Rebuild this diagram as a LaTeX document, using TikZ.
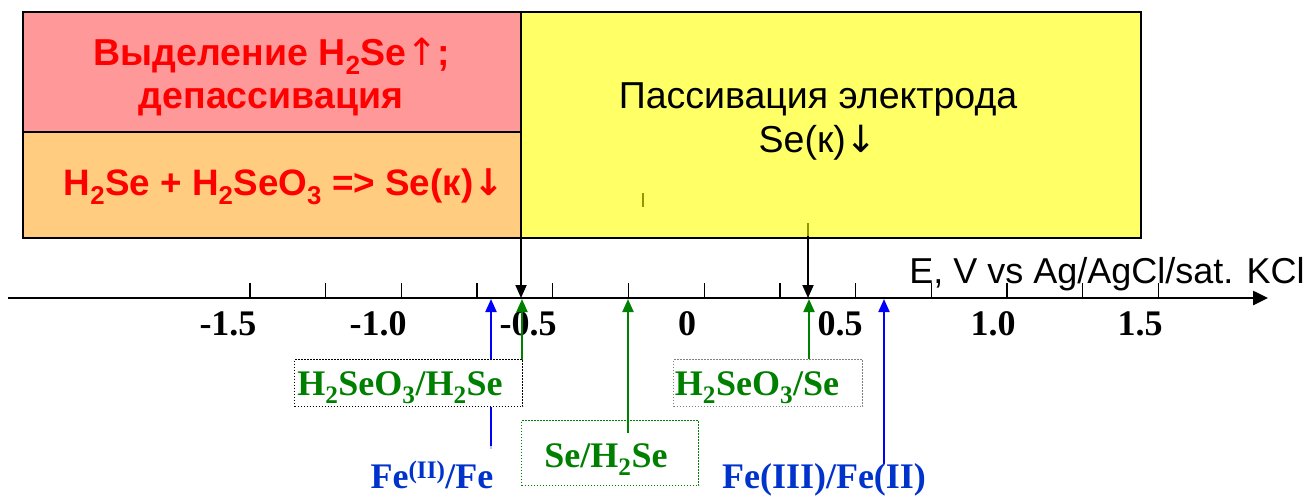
\documentclass[tikz,border=0pt]{standalone}
\usepackage{fontspec}
\setmainfont{Liberation Serif}
\newfontfamily\arialf{Liberation Sans}
\newfontfamily\dejavuf{DejaVu Sans}
\usetikzlibrary{arrows.meta}
\definecolor{redfill}{RGB}{255,153,153}
\definecolor{orfill}{RGB}{255,204,128}
\definecolor{yelfill}{RGB}{255,255,102}
\definecolor{txtred}{RGB}{255,0,0}
\definecolor{grn}{RGB}{0,128,0}
\definecolor{blu}{RGB}{0,0,255}
\definecolor{blutxt}{RGB}{0,51,204}
\definecolor{olivemark}{RGB}{150,150,0}
\newcommand{\uparr}{{\dejavuf\mdseries ↑}}
\newcommand{\dnarr}{{\dejavuf\mdseries ↓}}
\newcommand{\dnarrb}{{\dejavuf\bfseries ↓}}
\begin{document}
\begin{tikzpicture}[x=1pt,y=-1pt,
  region/.style={draw=black, line width=1.6pt, inner sep=0pt, anchor=north west},
  rutext/.style={font=\arialf\bfseries\fontsize{37.5}{42}\selectfont, text=txtred, anchor=base, inner sep=0pt},
  ytext/.style={font=\arialf\fontsize{37.5}{42}\selectfont, text=black, anchor=base, inner sep=0pt},
  axlabel/.style={font=\arialf\fontsize{36}{40}\selectfont, text=black, anchor=base, inner sep=0pt},
  ticklab/.style={font=\bfseries\fontsize{36}{40}\selectfont, text=black, anchor=base, inner sep=0pt},
  grnlab/.style={font=\bfseries\fontsize{36}{40}\selectfont, text=grn, anchor=base, inner sep=0pt},
  blulab/.style={font=\bfseries\fontsize{36}{40}\selectfont, text=blutxt, anchor=base, inner sep=0pt},
  lbox/.style={line width=1.3pt, dash pattern=on 1.3pt off 1.7pt, inner sep=0pt, anchor=north west},
  tickmark/.style={line width=1.3pt, black},
  blkarr/.style={line width=1.8pt, black, -{Triangle[length=13pt,width=11pt]}},
  grnarr/.style={line width=2pt, grn, -{Triangle[length=13pt,width=11pt]}},
  bluarr/.style={line width=2pt, blu, -{Triangle[length=13pt,width=11pt]}}
]
\useasboundingbox (0,0) rectangle (1313,495);

% regions
\node[region, fill=redfill, minimum width=498pt, minimum height=120pt] (red) at (22,11) {};
\node[region, fill=orfill, minimum width=498pt, minimum height=106pt] (orange) at (22,131) {};
\node[region, fill=yelfill, minimum width=620pt, minimum height=226pt] (yellow) at (520,11) {};

\node[rutext] (t1) at (272,65) {Выделение H\textsubscript{2}Se\uparr;};
\node[rutext] (t2) at (271,108) {депассивация};
\node[rutext, font=\arialf\bfseries\fontsize{36.8}{42}\selectfont] (t3) at (284,195) {H\textsubscript{2}Se + H\textsubscript{2}SeO\textsubscript{3} => Se(к)\dnarrb};
\node[ytext] (t4) at (818,108) {Пассивация электрода};
\node[ytext] (t5) at (818,152) {Se(к)\dnarr};

% stray mark
\draw[olivemark, line width=1.4pt] (643,193) -- (643,207);

% axis
\coordinate (ax0) at (8,298);
\coordinate (ax1) at (1268,298);
\foreach \k in {0,...,12} \draw[tickmark] ({250+75.7*\k},298) -- ({250+75.7*\k},283);
\draw[line width=2.5pt, -{Triangle[length=15pt,width=14pt]}] (ax0) -- (ax1);
\node[axlabel] (axl) at (1107,283) {E, V vs Ag/AgCl/sat. KCl};

\node[ticklab] (n1) at (228,335) {-1.5};
\node[ticklab] (n2) at (378,335) {-1.0};
\node[ticklab] (n3) at (528,335) {-0.5};
\node[ticklab] (n4) at (687,335) {0};
\node[ticklab] (n5) at (840,335) {0.5};
\node[ticklab] (n6) at (993,335) {1.0};
\node[ticklab] (n7) at (1140,335) {1.5};

% black arrows from regions to axis
\coordinate (d1s) at (521,237);
\coordinate (d1e) at (521,298);
\coordinate (d2s) at (808,223);
\coordinate (d2e) at (808,298);
\draw[blkarr] (d1s) -- (d1e);
\draw[blkarr] (d2s) -- (d2e);
\draw[olivemark, line width=1.8pt] (d2s) -- (808,236);

% arrows from couples to axis
\coordinate (b1s) at (491,446);
\coordinate (b1e) at (491,299);
\coordinate (g1s) at (522,388);
\coordinate (g1e) at (522,299);
\coordinate (g2s) at (628,433);
\coordinate (g2e) at (628,299);
\coordinate (g3s) at (809,359);
\coordinate (g3e) at (809,299);
\coordinate (b2s) at (884,464);
\coordinate (b2e) at (884,299);
\draw[bluarr] (b1s) -- (b1e);
\draw[blu!25, line width=2pt] (491,446) -- (491,449);
\draw[grnarr] (g1s) -- (g1e);
\draw[grnarr] (g2s) -- (g2e);
\draw[grnarr] (g3s) -- (g3e);
\draw[bluarr] (b2s) -- (b2e);

% labelled boxes
\node[lbox, draw=black, fill=white, minimum width=228pt, minimum height=47pt] (bx1) at (294,359) {};
\node[grnlab] (l1) at (400,395) {H\textsubscript{2}SeO\textsubscript{3}/H\textsubscript{2}Se};
\node[lbox, draw=grn, minimum width=177pt, minimum height=65pt] (bx2) at (521,420) {};
\node[grnlab] (l2) at (606,467) {Se/H\textsubscript{2}Se};
\node[lbox, draw=gray, fill=white, minimum width=189pt, minimum height=47pt] (bx3) at (673,359) {};
\node[grnlab] (l3) at (757,395) {H\textsubscript{2}SeO\textsubscript{3}/Se};

\node[blulab] (f1) at (432,488) {Fe\textsuperscript{(II)}/Fe};
\node[blulab] (f2) at (824,488) {Fe(III)/Fe(II)};
\end{tikzpicture}
\end{document}
